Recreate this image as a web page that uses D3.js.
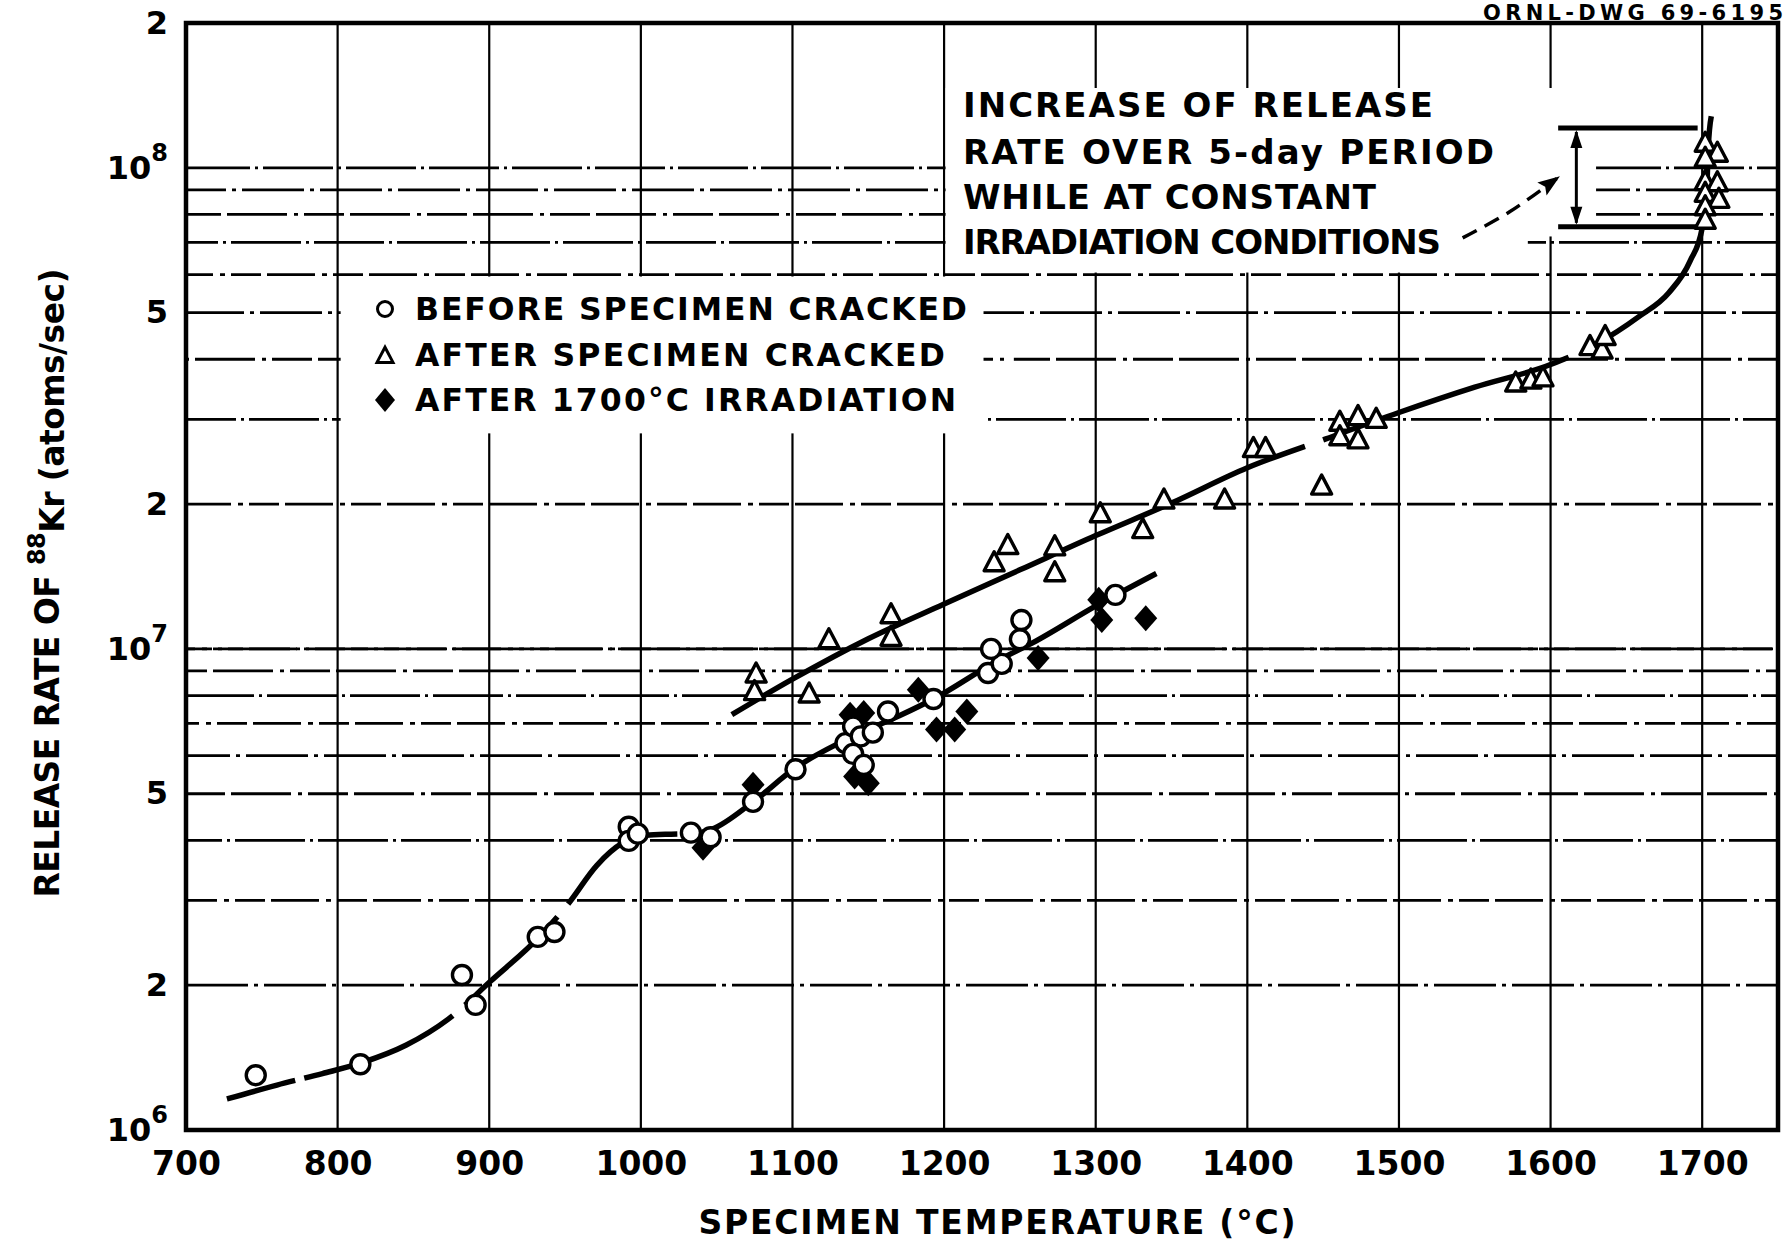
<!DOCTYPE html>
<html>
<head>
<meta charset="utf-8">
<script src="https://cdn.jsdelivr.net/npm/d3@7"></script>
<style>
  html, body { margin: 0; padding: 0; background: #fff; }
  svg { display: block; }
  text { font-family: "DejaVu Sans", "Liberation Sans", sans-serif; font-weight: bold; fill: #000; }
</style>
</head>
<body>
<svg id="chart" width="1791" height="1244"></svg>
<script>
// Temperature axis ticks (deg C) and release-rate axis ticks (atoms/sec)
const tempTicks = [700, 800, 900, 1000, 1100, 1200, 1300, 1400, 1500, 1600, 1700];
const rateTicks = [1e6, 2e6, 5e6, 1e7, 2e7, 5e7, 1e8, 2e8];
const rateTickLabels = [["10", "6"], ["2"], ["5"], ["10", "7"], ["2"], ["5"], ["10", "8"], ["2"]];

// Measured release rates of 88Kr: [temperature degC, atoms/sec]
const beforeCracked = [
  [746, 1.30e6], [815, 1.37e6], [882, 2.10e6], [891, 1.82e6], [932, 2.52e6], [943, 2.58e6],
  [992, 4.27e6], [992, 3.99e6], [998, 4.13e6], [1033, 4.15e6], [1046, 4.06e6], [1074, 4.81e6],
  [1102, 5.62e6], [1135, 6.37e6], [1140, 6.90e6], [1145, 6.58e6], [1153, 6.70e6], [1140, 6.05e6],
  [1147, 5.74e6], [1163, 7.41e6], [1193, 7.87e6], [1229, 8.91e6], [1238, 9.31e6], [1231, 1.0e7],
  [1250, 1.047e7], [1251, 1.148e7], [1313, 1.295e7]
];
const afterCracked = [
  [1076, 8.87e6], [1075, 8.15e6], [1111, 8.06e6], [1124, 1.045e7], [1165, 1.178e7], [1165, 1.057e7],
  [1233, 1.51e7], [1242, 1.64e7], [1273, 1.63e7], [1273, 1.44e7], [1303, 1.91e7], [1331, 1.77e7],
  [1345, 2.04e7], [1385, 2.04e7], [1404, 2.61e7], [1412, 2.61e7], [1449, 2.18e7], [1461, 2.96e7],
  [1461, 2.76e7], [1473, 3.04e7], [1473, 2.72e7], [1485, 3.0e7], [1577, 3.57e7], [1587, 3.62e7],
  [1595, 3.66e7], [1626, 4.25e7], [1634, 4.18e7], [1636, 4.46e7],
  [1702, 1.125e8], [1710, 1.072e8], [1702, 1.047e8], [1702, 9.36e7], [1710, 9.31e7],
  [1702, 8.85e7], [1711, 8.60e7], [1702, 8.30e7], [1702, 7.78e7]
];
const after1700Irradiation = [
  [1041, 3.86e6], [1074, 5.22e6], [1138, 7.30e6], [1147, 7.36e6], [1141, 5.43e6], [1150, 5.26e6],
  [1183, 8.22e6], [1195, 6.80e6], [1207, 6.80e6], [1215, 7.41e6], [1262, 9.58e6], [1302, 1.265e7],
  [1304, 1.148e7], [1333, 1.158e7]
];

// Hand-faired trend curves
const beforeCurve = [
  [727, 1.16e6], [760, 1.24e6], [790, 1.31e6], [816, 1.38e6], [845, 1.50e6], [873, 1.70e6],
  [901, 2.04e6], [933, 2.52e6], [952, 2.95e6], [971, 3.55e6], [988, 3.95e6], [1003, 4.10e6],
  [1020, 4.12e6], [1035, 4.13e6], [1047, 4.22e6], [1073, 4.78e6], [1102, 5.66e6], [1135, 6.47e6],
  [1170, 7.25e6], [1193, 7.87e6], [1236, 9.48e6], [1258, 1.028e7], [1301, 1.233e7], [1340, 1.435e7]
];
const afterCurve = [
  [1060, 7.3e6], [1100, 8.65e6], [1150, 1.05e7], [1200, 1.24e7], [1250, 1.46e7], [1300, 1.72e7],
  [1350, 2.01e7], [1400, 2.38e7], [1450, 2.72e7], [1500, 3.1e7], [1550, 3.5e7], [1600, 3.9e7],
  [1630, 4.3e7], [1658, 4.9e7], [1678, 5.5e7], [1692, 6.4e7], [1700, 7.5e7], [1703, 9.0e7],
  [1704, 1.1e8], [1706, 1.28e8]
];
// breaks in the pen line, as temperature spans
const beforeCurveBreaks = [[772, 778], [876, 884], [945, 952], [1024, 1040]];
const afterCurveBreaks = [[1438, 1450], [1612, 1622]];

// Five-day rise bracket at 1700 degC (range of release rate) and its pointer
const riseRange = [7.54e7, 1.21e8];
const riseBracketTemp = 1617;
const riseBarTemps = [1605, 1697];
const pointerPath = [[1542, 7.15e7], [1573, 8.1e7], [1604, 9.5e7]];

const annotationLines = ["INCREASE OF RELEASE", "RATE OVER 5-day PERIOD", "WHILE AT CONSTANT", "IRRADIATION CONDITIONS"];
const legendLabels = ["BEFORE SPECIMEN CRACKED", "AFTER SPECIMEN CRACKED", "AFTER 1700\u00b0C IRRADIATION"];

// ---------------------------------------------------------------------------
const svg = d3.select("#chart");
const x = d3.scaleLinear().domain([700, 1750]).range([186, 1778]);
const y = d3.scaleLog().domain([1e6, 2e8]).range([1130, 23]);

// minor grid values: 2..9 x 10^n plus each decade
const gridRates = [];
[1e6, 1e7].forEach(dec => { for (let k = 1; k <= 9; k++) if (dec * k > 1e6) gridRates.push(dec * k); });
gridRates.push(1e7, 1e8);

const grid = svg.append("g");
const dashSets = ["62 6 4 6", "48 7 5 6 30 6", "70 5 3 5", "40 6 60 7 4 6"];
grid.selectAll("line.h").data(gridRates).join("line")
  .attr("x1", x(700)).attr("x2", x(1750))
  .attr("y1", d => y(d)).attr("y2", d => y(d))
  .attr("stroke", "#000").attr("stroke-width", 2.8)
  .attr("stroke-dasharray", (d, i) => dashSets[i % dashSets.length])
  .attr("stroke-dashoffset", (d, i) => (i * 17) % 50);
grid.selectAll("line.v").data(tempTicks.slice(1)).join("line")
  .attr("x1", d => x(d)).attr("x2", d => x(d))
  .attr("y1", y(2e8)).attr("y2", y(1e6))
  .attr("stroke", "#000").attr("stroke-width", 2.2);

// white panels behind the legend and the note
svg.append("rect")
  .attr("x", x(802)).attr("y", y(6e7) + 2)
  .attr("width", x(1226) - x(802)).attr("height", y(3e7) - y(6e7) + 12)
  .attr("fill", "#fff");
svg.append("rect")
  .attr("x", x(1240)).attr("y", y(4e7) - 3)
  .attr("width", x(1246) - x(1240)).attr("height", 6)
  .attr("fill", "#fff");
svg.append("rect")
  .attr("x", x(1201)).attr("y", 88)
  .attr("width", x(1630) - x(1201)).attr("height", y(7.2e7) - 88)
  .attr("fill", "#fff");
svg.append("rect")
  .attr("x", x(1201)).attr("y", y(7.2e7) - 1)
  .attr("width", x(1585) - x(1201)).attr("height", y(6e7) - y(7.2e7) - 1)
  .attr("fill", "#fff");

// frame
svg.append("rect")
  .attr("x", x(700)).attr("y", y(2e8))
  .attr("width", x(1750) - x(700)).attr("height", y(1e6) - y(2e8))
  .attr("fill", "none").attr("stroke", "#000").attr("stroke-width", 4.5);

// axes
const xAxis = svg.append("g").attr("transform", `translate(0,${y(1e6)})`)
  .call(d3.axisBottom(x).tickValues(tempTicks).tickSize(0).tickPadding(22).tickFormat(d3.format("d")));
xAxis.select(".domain").remove();
xAxis.selectAll("text").attr("font-size", 33).attr("font-family", null).attr("fill", "#000");

const yAxis = svg.append("g").attr("transform", `translate(${x(700)},0)`)
  .call(d3.axisLeft(y).tickValues(rateTicks).tickSize(0).tickPadding(18).tickFormat(() => ""));
yAxis.select(".domain").remove();
yAxis.selectAll("text").each(function (d, i) {
  const t = d3.select(this).attr("font-size", 32).attr("font-family", null).attr("fill", "#000");
  const lab = rateTickLabels[i];
  t.append("tspan").text(lab[0]);
  if (lab.length > 1) {
    t.append("tspan").attr("font-size", 24).attr("dy", "-0.75em").text(lab[1]);
  }
});

// axis titles
svg.append("text")
  .attr("x", 997).attr("y", 1234)
  .attr("text-anchor", "middle").attr("font-size", 33)
  .attr("textLength", 597).attr("lengthAdjust", "spacing")
  .text("SPECIMEN TEMPERATURE (\u00b0C)");

const yt = svg.append("text")
  .attr("transform", "translate(59,583) rotate(-90)")
  .attr("text-anchor", "middle").attr("font-size", 33)
  .attr("textLength", 629).attr("lengthAdjust", "spacing");
yt.append("tspan").text("RELEASE RATE OF ");
yt.append("tspan").attr("font-size", 24).attr("dy", "-0.6em").text("88");
yt.append("tspan").attr("dy", "0.6em").text("Kr (atoms/sec)");

// drawing number
svg.append("text").attr("x", 1783).attr("y", 20).attr("text-anchor", "end")
  .attr("font-size", 21).attr("textLength", 300).attr("lengthAdjust", "spacing")
  .text("ORNL-DWG 69-6195");

// trend curves, with pen breaks turned into a dash pattern
const line = d3.line().x(d => x(d[0])).y(d => y(d[1])).curve(d3.curveMonotoneX);
function drawCurve(data, breaks) {
  const p = svg.append("path").datum(data).attr("d", line)
    .attr("fill", "none").attr("stroke", "#000").attr("stroke-width", 5.5);
  const node = p.node();
  const total = node.getTotalLength();
  const lenAt = tx => {
    const px = x(tx);
    let lo = 0, hi = total;
    for (let k = 0; k < 40; k++) {
      const mid = (lo + hi) / 2;
      if (node.getPointAtLength(mid).x < px) lo = mid; else hi = mid;
    }
    return lo;
  };
  const dash = [];
  let pos = 0;
  breaks.forEach(([a, b]) => {
    const la = lenAt(a), lb = lenAt(b);
    dash.push(la - pos, lb - la);
    pos = lb;
  });
  dash.push(total - pos + 10, 0);
  p.attr("stroke-dasharray", dash.join(" "));
}
drawCurve(beforeCurve, beforeCurveBreaks);
drawCurve(afterCurve, afterCurveBreaks);

// marker shapes
const triPath = s => `M0,${-1.1 * s}L${s},${0.8 * s}L${-s},${0.8 * s}Z`;
const diaPath = (w, h) => `M0,${-h}L${w},0L0,${h}L${-w},0Z`;

svg.append("g").selectAll("path").data(after1700Irradiation).join("path")
  .attr("transform", d => `translate(${x(d[0])},${y(d[1])})`)
  .attr("d", diaPath(11.5, 13)).attr("fill", "#000");

svg.append("g").selectAll("path").data(afterCracked).join("path")
  .attr("transform", d => `translate(${x(d[0])},${y(d[1])})`)
  .attr("d", triPath(10)).attr("fill", "#fff").attr("stroke", "#000")
  .attr("stroke-width", 3.4).attr("stroke-linejoin", "round");

svg.append("g").selectAll("circle").data(beforeCracked).join("circle")
  .attr("cx", d => x(d[0])).attr("cy", d => y(d[1])).attr("r", 9.5)
  .attr("fill", "#fff").attr("stroke", "#000").attr("stroke-width", 3.4);

// legend
const legend = svg.append("g");
const legX = 385;
const legY = [320, 366, 411];
legend.append("circle").attr("cx", legX).attr("cy", legY[0] - 11).attr("r", 7.5)
  .attr("fill", "#fff").attr("stroke", "#000").attr("stroke-width", 3);
legend.append("path").attr("transform", `translate(${legX},${legY[1] - 10})`)
  .attr("d", triPath(8)).attr("fill", "#fff").attr("stroke", "#000").attr("stroke-width", 3);
legend.append("path").attr("transform", `translate(${legX},${legY[2] - 11})`)
  .attr("d", diaPath(10, 12)).attr("fill", "#000");
const legLens = [552, 530, 541];
legendLabels.forEach((s, i) => {
  legend.append("text").attr("x", 415).attr("y", legY[i]).attr("font-size", 31.5)
    .attr("textLength", legLens[i]).attr("lengthAdjust", "spacing").text(s);
});

// note text
const noteBase = [117, 164, 209, 254];
const noteLens = [470, 531, 413, 478];
annotationLines.forEach((s, i) => {
  svg.append("text").attr("x", 963).attr("y", noteBase[i]).attr("font-size", 34)
    .attr("textLength", noteLens[i]).attr("lengthAdjust", "spacing").text(s);
});

// bracket showing the five-day rise
const bx = x(riseBracketTemp);
riseRange.forEach(v => {
  svg.append("line").attr("x1", x(riseBarTemps[0])).attr("x2", x(riseBarTemps[1]))
    .attr("y1", y(v)).attr("y2", y(v)).attr("stroke", "#000").attr("stroke-width", 5);
});
svg.append("line").attr("x1", bx).attr("x2", bx)
  .attr("y1", y(riseRange[1]) + 4).attr("y2", y(riseRange[0]) - 4)
  .attr("stroke", "#000").attr("stroke-width", 3);
svg.append("path").attr("d", `M${bx},${y(riseRange[1]) + 2}l-6,18l12,0Z`).attr("fill", "#000");
svg.append("path").attr("d", `M${bx},${y(riseRange[0]) - 2}l-6,-18l12,0Z`).attr("fill", "#000");

// dashed pointer from the note to the bracket
const pLine = d3.line().x(d => x(d[0])).y(d => y(d[1])).curve(d3.curveCatmullRom);
svg.append("path").datum(pointerPath).attr("d", pLine)
  .attr("fill", "none").attr("stroke", "#000").attr("stroke-width", 3.5)
  .attr("stroke-dasharray", "16 9");
{
  const p2 = pointerPath[2], p1 = pointerPath[1];
  const ang = Math.atan2(y(p2[1]) - y(p1[1]), x(p2[0]) - x(p1[0])) * 180 / Math.PI;
  svg.append("path").attr("transform", `translate(${x(p2[0])},${y(p2[1])}) rotate(${ang})`)
    .attr("d", "M4,0L-18,-8L-14,0L-18,8Z").attr("fill", "#000");
}
</script>
</body>
</html>
